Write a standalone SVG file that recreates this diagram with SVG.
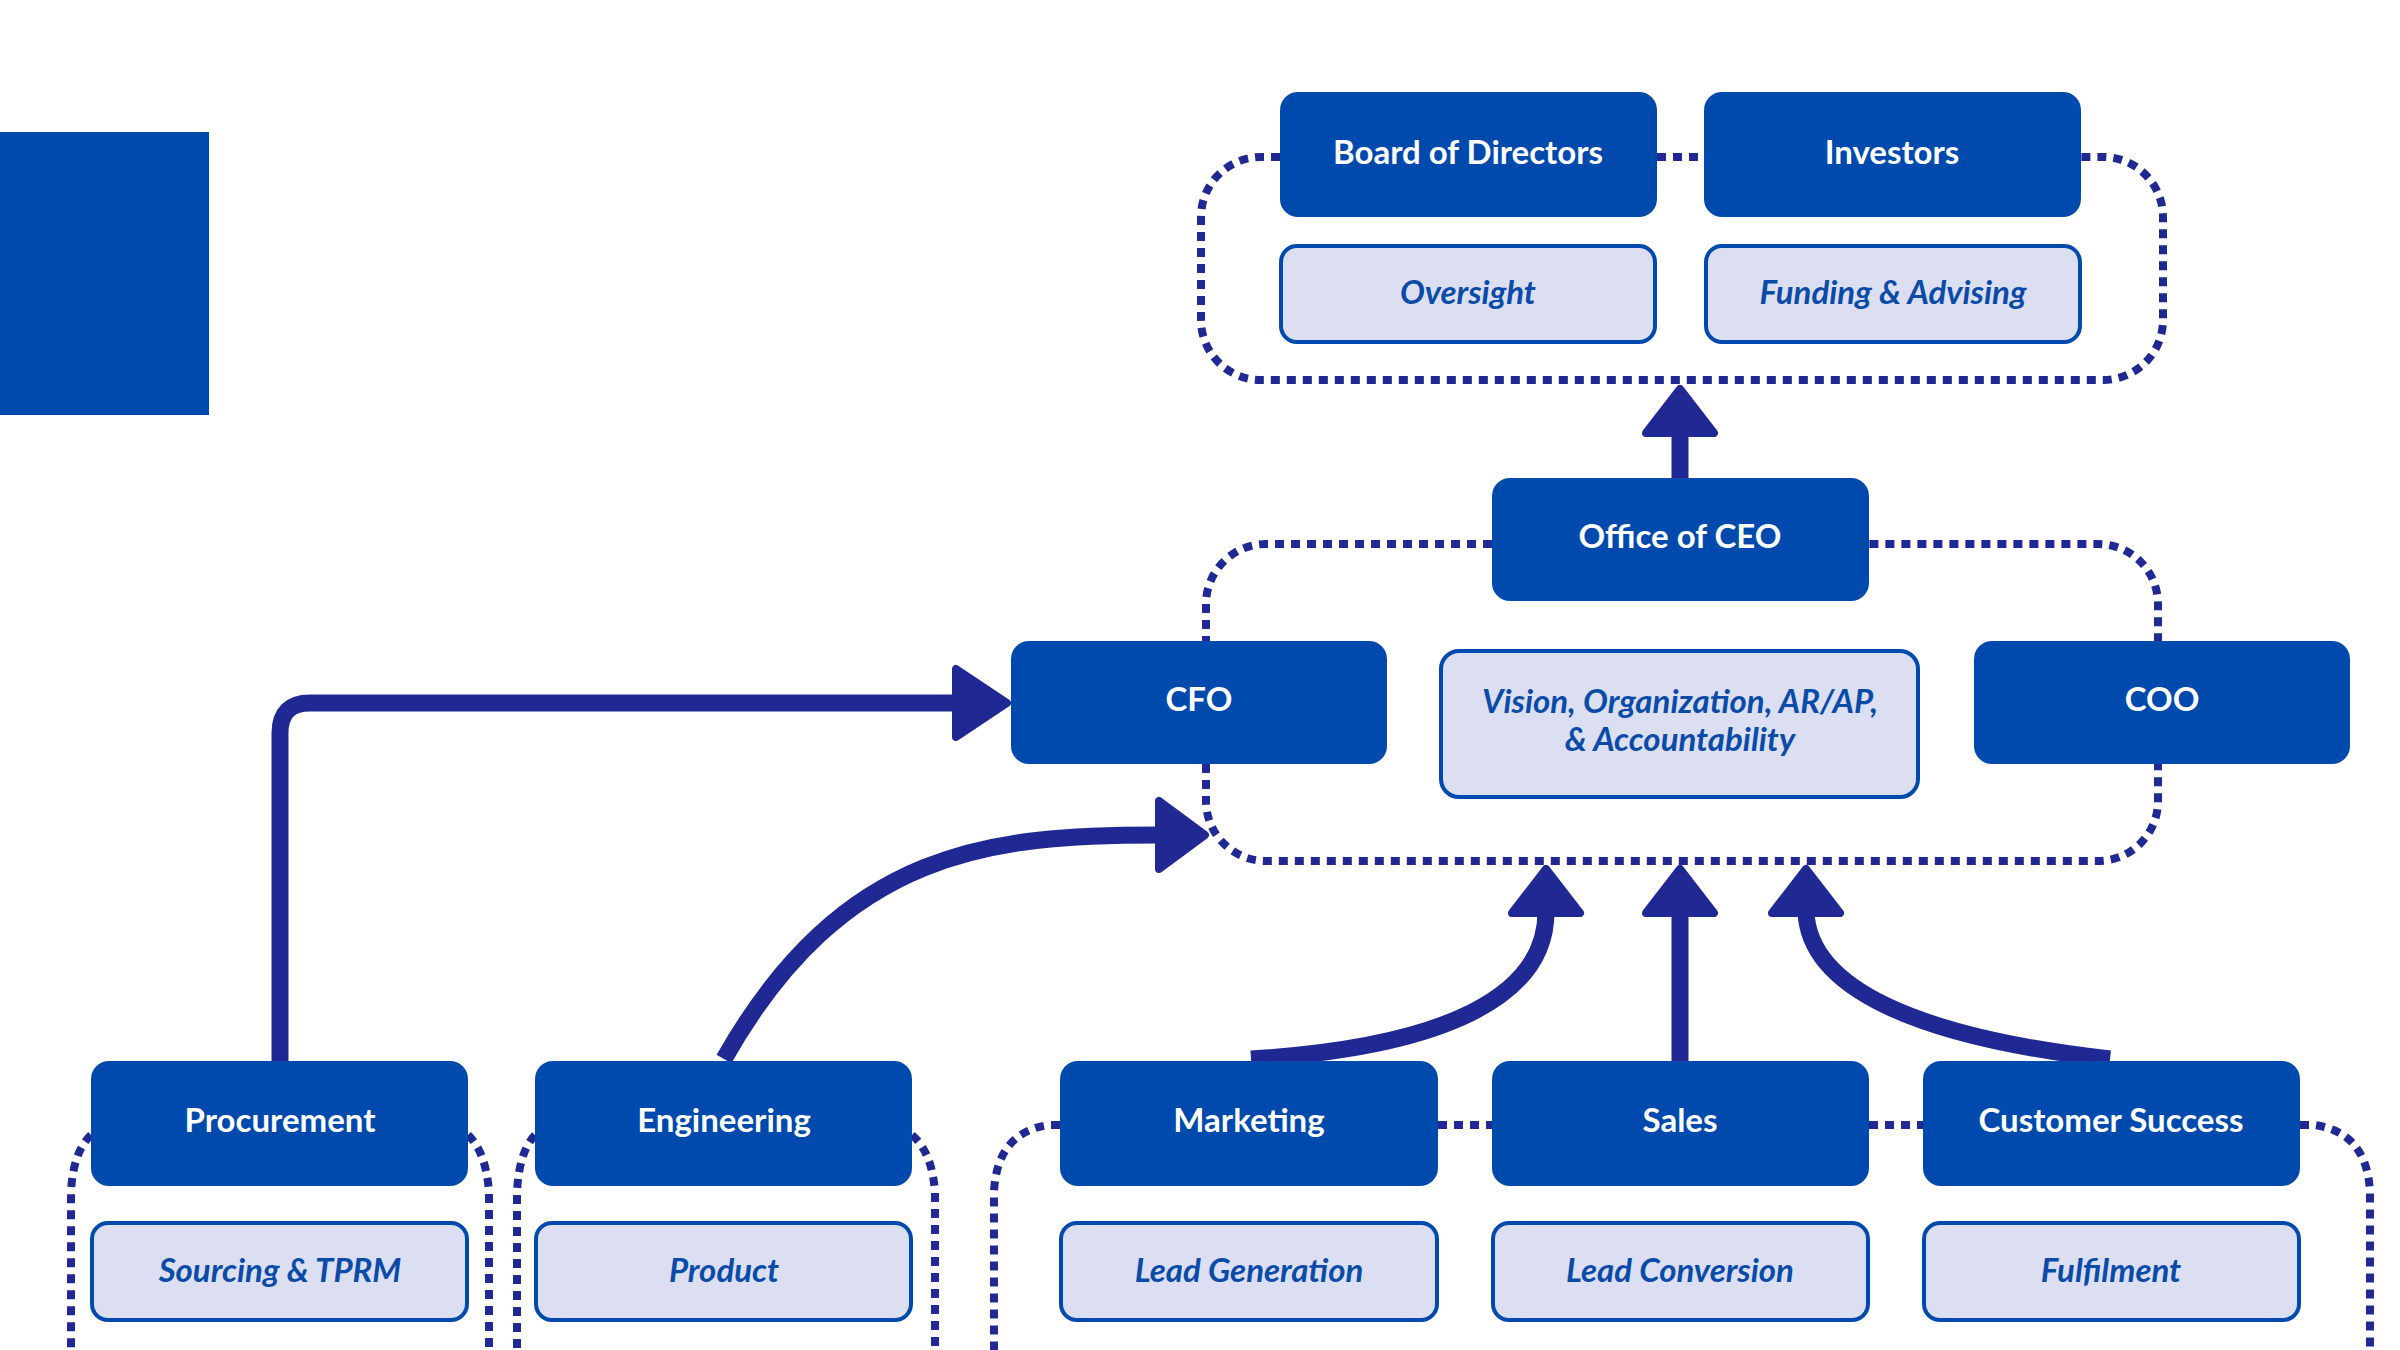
<svg xmlns="http://www.w3.org/2000/svg" width="2400" height="1350" viewBox="0 0 2400 1350">
<style>
.box{fill:#004AAD}
.sub{fill:#DCDFF2;stroke:#004AAD;stroke-width:4}
.t{font-family:Lato,"Noto Sans",sans-serif;font-weight:700;font-size:33px;fill:#fff;text-anchor:middle}
.s{font-family:Lato,"Noto Sans",sans-serif;font-weight:700;font-style:italic;font-size:33px;fill:#0B4BA8;text-anchor:middle}
.dot{fill:none;stroke:#1F2893;stroke-width:8;stroke-dasharray:9 7}
.arr{fill:none;stroke:#1F2893;stroke-width:17}
.head{fill:#1F2893;stroke:#1F2893;stroke-width:8;stroke-linejoin:round}
</style>
<rect x="0" y="132" width="209" height="283" fill="#004AAD"/>
<g transform="translate(-6,-3)">
<g id="connectors">
<path class="dot" d="M1286,160 L1267,160 A60,60 0 0 0 1207,220 L1207,323 A60,60 0 0 0 1267,383 L2109,383 A60,60 0 0 0 2169,323 L2169,220 A60,60 0 0 0 2109,160 L2087,160 M1663,160 L1710,160"/>
<path class="dot" d="M1498,547 L1272,547 A60,60 0 0 0 1212,607 L1212,804 A60,60 0 0 0 1272,864 L2104,864 A60,60 0 0 0 2164,804 L2164,607 A60,60 0 0 0 2104,547 L1875,547"/>
<path class="dot" d="M97,1138 Q79,1155 77,1195 L77,1360 M474,1138 Q492,1155 495,1195 L495,1360"/>
<path class="dot" d="M541,1138 Q525,1155 523,1195 L523,1360 M918,1138 Q938,1155 941,1195 L941,1360"/>
<path class="dot" d="M1066,1128 L1055,1128 Q1003,1135 1000,1195 L1000,1360 M1444,1128 L1498,1128 M1875,1128 L1929,1128 M2306,1128 L2320,1128 Q2373,1135 2376,1195 L2376,1360"/>
<path class="arr" d="M1686,481 L1686,432"/>
<polygon class="head" points="1686,392 1720,436 1652,436"/>
<path class="arr" d="M286,1064 L286,736 Q286,706 316,706 L962,706"/>
<polygon class="head" points="1013,706 962,672 962,740"/>
<path class="arr" d="M730,1062 C850,850 1000,838 1165,838"/>
<polygon class="head" points="1211,838 1165,804 1165,872"/>
<path class="arr" d="M1257,1062 C1450,1050 1552,1000 1552,915"/>
<polygon class="head" points="1552,872 1586,916 1518,916"/>
<path class="arr" d="M1686,1064 L1686,915"/>
<polygon class="head" points="1686,872 1720,916 1652,916"/>
<path class="arr" d="M2116,1062 C1920,1040 1815,990 1812,915"/>
<polygon class="head" points="1812,872 1846,916 1778,916"/>
</g>
<g id="board"><rect class="box" x="1286" y="95" width="377" height="125" rx="18"/><text class="t" x="1474" y="167">Board of Directors</text></g>
<g id="investors"><rect class="box" x="1710" y="95" width="377" height="125" rx="18"/><text class="t" x="1898" y="167">Investors</text></g>
<g id="oversight"><rect class="sub" x="1287" y="249" width="374" height="96" rx="16"/><text class="s" x="1474" y="307">Oversight</text></g>
<g id="funding"><rect class="sub" x="1712" y="249" width="374" height="96" rx="16"/><text class="s" x="1899" y="307">Funding &amp; Advising</text></g>
<g id="ceo"><rect class="box" x="1498" y="481" width="377" height="123" rx="18"/><text class="t" x="1686" y="551">Office of CEO</text></g>
<g id="cfo"><rect class="box" x="1017" y="644" width="376" height="123" rx="18"/><text class="t" x="1205" y="714">CFO</text></g>
<g id="coo"><rect class="box" x="1980" y="644" width="376" height="123" rx="18"/><text class="t" x="2168" y="714">COO</text></g>
<g id="vision"><rect class="sub" x="1447" y="654" width="477" height="146" rx="18"/><text class="s" x="1686" y="716">Vision, Organization, AR/AP,</text><text class="s" x="1686" y="754">&amp; Accountability</text></g>
<g id="procurement"><rect class="box" x="97" y="1064" width="377" height="125" rx="18"/><text class="t" x="286" y="1135">Procurement</text></g>
<g id="engineering"><rect class="box" x="541" y="1064" width="377" height="125" rx="18"/><text class="t" x="730" y="1135">Engineering</text></g>
<g id="marketing"><rect class="box" x="1066" y="1064" width="378" height="125" rx="18"/><text class="t" x="1255" y="1135">Marketing</text></g>
<g id="sales"><rect class="box" x="1498" y="1064" width="377" height="125" rx="18"/><text class="t" x="1686" y="1135">Sales</text></g>
<g id="cs"><rect class="box" x="1929" y="1064" width="377" height="125" rx="18"/><text class="t" x="2117" y="1135">Customer Success</text></g>
<g id="sourcing"><rect class="sub" x="98" y="1226" width="375" height="97" rx="16"/><text class="s" x="286" y="1285">Sourcing &amp; TPRM</text></g>
<g id="product"><rect class="sub" x="542" y="1226" width="375" height="97" rx="16"/><text class="s" x="730" y="1285">Product</text></g>
<g id="leadgen"><rect class="sub" x="1067" y="1226" width="376" height="97" rx="16"/><text class="s" x="1255" y="1285">Lead Generation</text></g>
<g id="leadconv"><rect class="sub" x="1499" y="1226" width="375" height="97" rx="16"/><text class="s" x="1686" y="1285">Lead Conversion</text></g>
<g id="fulfilment"><rect class="sub" x="1930" y="1226" width="375" height="97" rx="16"/><text class="s" x="2117" y="1285">Fulfilment</text></g>
</g>
</svg>
